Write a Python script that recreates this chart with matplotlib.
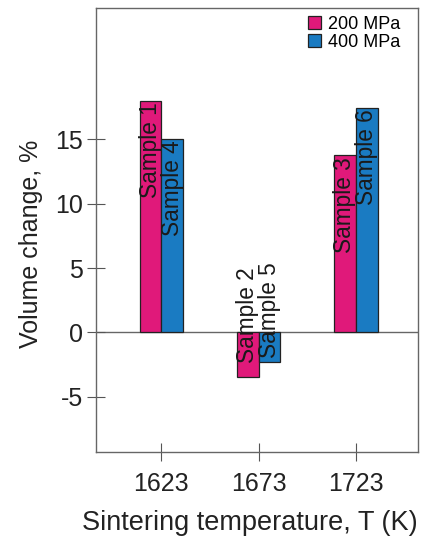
import matplotlib
matplotlib.use("Agg")
import matplotlib.pyplot as plt
import numpy as np

plt.rcParams['font.family'] = ['Liberation Sans', 'DejaVu Sans']

temperatures = ["1623", "1673", "1723"]
series_names = ["200 MPa", "400 MPa"]
vals_200 = [18.0, -3.45, 13.75]
vals_400 = [15.0, -2.3, 17.45]
labels_200 = ["Sample 1", "Sample 2", "Sample 3"]
labels_400 = ["Sample 4", "Sample 5", "Sample 6"]
yticks = [-5, 0, 5, 10, 15]

colors = ["#E0197A", "#1A7BC2"]
fig = plt.figure(figsize=(4.24, 5.39), dpi=100)
ax = fig.add_axes([0.227, 0.161, 0.759, 0.824])

x = np.arange(len(temperatures))
w = 0.225
ax.axhline(0, color="#666666", lw=1.0, zorder=1)
ax.bar(x - w/2, vals_200, w, color=colors[0], edgecolor="#222222", lw=0.9, label=series_names[0], zorder=2)
ax.bar(x + w/2, vals_400, w, color=colors[1], edgecolor="#222222", lw=0.9, label=series_names[1], zorder=2)

for xs, vals, labs in [(x - w/2, vals_200, labels_200), (x + w/2, vals_400, labels_400)]:
    for xi, v, lab in zip(xs, vals, labs):
        if v >= 0:
            ax.text(xi, v - 0.1, lab, rotation=90, ha="center", va="top", fontsize=16.3, color="#1a1a1a", zorder=3)
        else:
            ax.text(xi, -2.4 if lab.endswith("2") else -1.95, lab, rotation=90, ha="center", va="bottom", fontsize=16.3, color="#1a1a1a", zorder=3)

ax.set_xlim(-0.67, 2.64)
ax.set_ylim(-9.3, 25.2)
ax.set_xticks(x)
ax.set_xticklabels(temperatures)
ax.set_yticks(yticks)
ax.set_yticklabels([str(t) for t in yticks])
ax.tick_params(axis="both", direction="inout", length=13, width=0.8, color="#555555", labelsize=18, labelcolor="#222222")
ax.tick_params(axis="x", pad=8)
ax.tick_params(axis="y", pad=3)
for s in ax.spines.values():
    s.set_color("#666666")
    s.set_linewidth(1.0)

ax.set_xlabel("Sintering temperature, T (K)", fontsize=19.5, color="#222222")
ax.xaxis.set_label_coords(0.478, -0.13)
ax.set_ylabel("Volume change, %", fontsize=18, color="#222222")
ax.yaxis.set_label_coords(-0.166, 0.468)

ax.legend(loc="upper right", bbox_to_anchor=(0.955, 0.99), fontsize=13, frameon=False,
          handlelength=0.75, handleheight=0.75, handletextpad=0.35, labelspacing=0.05,
          borderaxespad=0.0, borderpad=0.2)

fig.savefig("out.png", dpi=100)
